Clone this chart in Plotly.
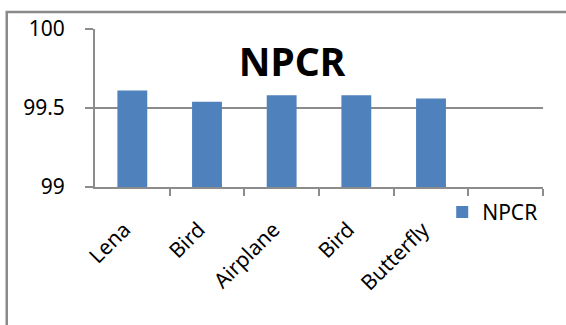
import plotly.graph_objects as go

# NPCR results per test image
images = ["Lena", "Bird", "Airplane", "Bird", "Butterfly"]
npcr = [99.61, 99.54, 99.58, 99.58, 99.56]
y_ticks = [99, 99.5, 100]
y_tick_text = ["99", "99.5", "100"]

positions = list(range(len(images)))
n_slots = 6  # one spare category slot on the right

FONT = "Noto Sans, Lato, sans-serif"
GRID = "#8c8c8c"

fig = go.Figure()
fig.add_trace(go.Bar(
    x=positions,
    y=npcr,
    name="NPCR",
    marker=dict(color="#4F81BD", line=dict(width=0)),
    width=0.4,
))

fig.update_layout(
    width=566,
    height=325,
    margin=dict(l=94.5, r=23, t=29, b=137.5),
    paper_bgcolor="white",
    plot_bgcolor="white",
    font=dict(family=FONT, color="black"),
    bargap=0.6,
    title=dict(
        text="<b>NPCR</b>",
        font=dict(family=FONT, size=39, color="black"),
        xref="paper", yref="paper",
        x=0.44, y=0.79,
        xanchor="center", yanchor="middle",
    ),
    showlegend=True,
    legend=dict(
        x=0.775, y=-0.16,
        xref="paper", yref="paper",
        xanchor="left", yanchor="middle",
        font=dict(family=FONT, size=21, color="black"),
        bgcolor="rgba(0,0,0,0)",
    ),
    xaxis=dict(
        range=[-0.5, n_slots - 0.5],
        tickmode="array",
        tickvals=positions,
        ticktext=images,
        tickangle=-45,
        ticks="",
        ticklabelstandoff=20,
        ticklabelshift=-8,
        tickfont=dict(family=FONT, size=21, color="black"),
        showgrid=False,
        showline=True,
        linecolor=GRID,
        linewidth=2,
        zeroline=False,
        minor=dict(
            tickvals=[i + 0.5 for i in range(n_slots)],
            ticks="outside",
            ticklen=7,
            tickwidth=2,
            tickcolor=GRID,
            showgrid=False,
        ),
        fixedrange=True,
    ),
    yaxis=dict(
        range=[99, 100],
        tickmode="array",
        tickvals=y_ticks,
        ticktext=y_tick_text,
        ticks="outside",
        ticklen=8,
        tickwidth=2,
        tickcolor=GRID,
        ticklabelstandoff=16,
        tickfont=dict(family=FONT, size=21, color="black"),
        showgrid=True,
        gridcolor=GRID,
        gridwidth=2,
        showline=True,
        linecolor=GRID,
        linewidth=2,
        zeroline=False,
        fixedrange=True,
    ),
    shapes=[
        # chart frame (runs past the right and bottom edges of the page)
        dict(
            type="rect", xref="paper", yref="paper",
            x0=-0.197, x1=1.2, y0=-1.2, y1=1.107,
            line=dict(color="#8a8a8a", width=2.5),
            fillcolor="rgba(0,0,0,0)",
            layer="below",
        ),
    ],
)

fig.write_html("out.html")
